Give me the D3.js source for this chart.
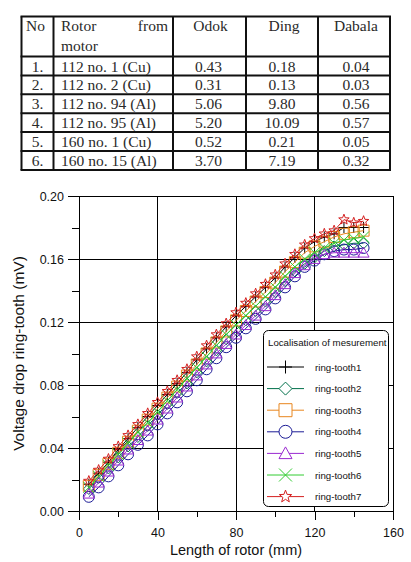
<!DOCTYPE html>
<html><head><meta charset="utf-8">
<script src="https://cdn.jsdelivr.net/npm/d3@7"></script>
<style>html,body{margin:0;padding:0;background:#fff;}svg{display:block;}</style>
</head><body>
<svg id="c" width="411" height="562"></svg>
<script>
// ---- table data ----
const tableHeader = ["No", "Rotor from motor", "Odok", "Ding", "Dabala"];
const tableNo = ["1.", "2.", "3.", "4.", "5.", "6."];
const tableRotor = ["112 no. 1 (Cu)", "112 no. 2 (Cu)", "112 no. 94 (Al)", "112 no. 95 (Al)", "160 no. 1 (Cu)", "160 no. 15 (Al)"];
const tableOdok = ["0.43", "0.31", "5.06", "5.20", "0.52", "3.70"];
const tableDing = ["0.18", "0.13", "9.80", "10.09", "0.21", "7.19"];
const tableDabala = ["0.04", "0.03", "0.56", "0.57", "0.05", "0.32"];

// ---- chart data ----
const lengthMm = [5,10,15,20,25,30,35,40,45,50,55,60,65,70,75,80,85,90,95,100,105,110,115,120,125,130,135,140,145];
const seriesNames = ["ring-tooth1","ring-tooth2","ring-tooth3","ring-tooth4","ring-tooth5","ring-tooth6","ring-tooth7"];
const tooth1 = [0.017,0.024,0.031,0.039,0.046,0.053,0.060,0.067,0.074,0.081,0.088,0.096,0.103,0.110,0.117,0.124,0.130,0.136,0.142,0.148,0.155,0.161,0.167,0.171,0.174,0.176,0.180,0.180,0.180];
const tooth2 = [0.014,0.021,0.027,0.034,0.041,0.047,0.054,0.061,0.068,0.075,0.081,0.088,0.095,0.102,0.109,0.115,0.121,0.127,0.133,0.139,0.146,0.152,0.157,0.161,0.165,0.168,0.169,0.170,0.170];
const tooth3 = [0.016,0.023,0.030,0.037,0.044,0.051,0.058,0.065,0.072,0.079,0.086,0.093,0.100,0.107,0.114,0.121,0.127,0.133,0.139,0.145,0.152,0.158,0.164,0.168,0.171,0.174,0.176,0.177,0.178];
const tooth4 = [0.009,0.015,0.022,0.029,0.036,0.042,0.048,0.055,0.062,0.069,0.076,0.083,0.090,0.097,0.104,0.110,0.116,0.122,0.128,0.135,0.142,0.149,0.155,0.159,0.163,0.165,0.166,0.166,0.167];
const tooth5 = [0.011,0.018,0.025,0.032,0.039,0.045,0.051,0.058,0.065,0.072,0.079,0.086,0.093,0.100,0.106,0.112,0.118,0.124,0.130,0.137,0.144,0.151,0.156,0.160,0.163,0.164,0.164,0.164,0.164];
const tooth6 = [0.015,0.022,0.029,0.036,0.043,0.050,0.056,0.063,0.070,0.077,0.084,0.091,0.098,0.105,0.112,0.118,0.124,0.130,0.136,0.142,0.149,0.155,0.160,0.164,0.167,0.170,0.172,0.173,0.174];
const tooth7 = [0.019,0.026,0.033,0.041,0.048,0.055,0.062,0.069,0.076,0.083,0.090,0.098,0.105,0.112,0.119,0.126,0.132,0.138,0.144,0.150,0.157,0.163,0.169,0.173,0.176,0.178,0.185,0.183,0.184];
const xMajorTicks = [0,40,80,120,160];
const xMinorTicks = [20,60,100,140];
const yMajorTicks = [0,0.04,0.08,0.12,0.16,0.20];
const yMinorTicks = [0.02,0.06,0.10,0.14,0.18];
const xTitle = "Length of rotor (mm)";
const yTitle = "Voltage drop ring-tooth (mV)";
const legendTitle = "Localisation of mesurement";

const seriesValues = [tooth1,tooth2,tooth3,tooth4,tooth5,tooth6,tooth7];
const colors = ["#000000","#00704a","#e8861e","#1c1c96","#9a2ad0","#33cc33","#d42020"];
const markers = ["plus","diamond","square","circle","triangle","cross","star"];

const svg = d3.select("#c");

// ---------- TABLE ----------
const tbl = svg.append("g");
const colX = [21.5, 53.5, 173, 246, 318, 390];
const tTop = 16.5, headH = 40, rowH = 18.9;
const tBottom = tTop + headH + rowH * 6;
const tColor = "#2a2a2a";
const rowLines = [tTop, tTop + headH];
for (let i = 1; i <= 6; i++) rowLines.push(tTop + headH + rowH * i);
tbl.selectAll("line.h").data(rowLines).join("line")
  .attr("x1", colX[0] - 1).attr("x2", colX[5] + 1)
  .attr("y1", d => d).attr("y2", d => d)
  .attr("stroke", "#111").attr("stroke-width", 2);
tbl.selectAll("line.v").data(colX).join("line")
  .attr("x1", d => d).attr("x2", d => d)
  .attr("y1", tTop).attr("y2", tBottom)
  .attr("stroke", "#111").attr("stroke-width", 2);
const tfont = "'Liberation Serif', 'Times New Roman', serif";
const ttext = (x, y, s, anchor) => tbl.append("text").attr("x", x).attr("y", y).text(s)
  .attr("font-family", tfont).attr("font-size", 15.5).attr("fill", tColor).attr("text-anchor", anchor || "start");
const hb = tTop + 14;
ttext(26, hb, tableHeader[0]);
const rotorWords = tableHeader[1].split(" ");
ttext(61, hb, rotorWords[0]);
ttext(168, hb, rotorWords[1], "end");
ttext(61, hb + 20, rotorWords[2]);
ttext((colX[2] + colX[3]) / 2 + 1, hb, tableHeader[2], "middle");
ttext((colX[3] + colX[4]) / 2 + 2, hb, tableHeader[3], "middle");
ttext((colX[4] + colX[5]) / 2 + 2, hb, tableHeader[4], "middle");
for (let i = 0; i < 6; i++) {
  const by = tTop + headH + rowH * i + 15;
  ttext((colX[0] + colX[1]) / 2, by, tableNo[i], "middle");
  ttext(61, by, tableRotor[i]);
  ttext((colX[2] + colX[3]) / 2 - 1, by, tableOdok[i], "middle");
  ttext((colX[3] + colX[4]) / 2, by, tableDing[i], "middle");
  ttext((colX[4] + colX[5]) / 2 + 2, by, tableDabala[i], "middle");
}

// ---------- CHART ----------
const L = 79, R = 393, T = 196, B = 511;
const x = d3.scaleLinear().domain([0, 160]).range([L, R]);
const y = d3.scaleLinear().domain([0, 0.20]).range([B, T]);
const cfont = "'Liberation Sans', Arial, sans-serif";

const g = svg.append("g");
// gridlines
g.selectAll("line.gx").data(xMajorTicks).join("line")
  .attr("x1", d => x(d)).attr("x2", d => x(d)).attr("y1", T).attr("y2", B)
  .attr("stroke", "#000").attr("stroke-width", 1).attr("shape-rendering", "crispEdges");
g.selectAll("line.gy").data(yMajorTicks).join("line")
  .attr("x1", L).attr("x2", R).attr("y1", d => y(d)).attr("y2", d => y(d))
  .attr("stroke", "#000").attr("stroke-width", 1).attr("shape-rendering", "crispEdges");

// axes
const xAx = g.append("g").attr("transform", `translate(0,${B})`)
  .call(d3.axisBottom(x).tickValues(xMajorTicks).tickSize(9).tickPadding(8).tickFormat(d3.format("d")));
const xAxMin = g.append("g").attr("transform", `translate(0,${B})`)
  .call(d3.axisBottom(x).tickValues(xMinorTicks).tickSize(6).tickFormat(""));
const yAx = g.append("g").attr("transform", `translate(${L},0)`)
  .call(d3.axisLeft(y).tickValues(yMajorTicks).tickSize(11).tickPadding(4).tickFormat(d3.format(".2f")));
const yAxMin = g.append("g").attr("transform", `translate(${L},0)`)
  .call(d3.axisLeft(y).tickValues(yMinorTicks).tickSize(7).tickFormat(""));
[xAx, xAxMin, yAx, yAxMin].forEach(a => {
  a.select(".domain").attr("stroke", "#000").attr("shape-rendering", "crispEdges");
  a.selectAll(".tick line").attr("stroke", "#000").attr("shape-rendering", "crispEdges");
  a.selectAll("text").attr("font-family", cfont).attr("font-size", 12.5).attr("fill", "#111");
});

// axis titles
g.append("text").attr("x", (L + R) / 2).attr("y", 555).attr("text-anchor", "middle")
  .attr("font-family", cfont).attr("font-size", 14.5).attr("fill", "#111").text(xTitle);
g.append("text").attr("transform", `translate(24,${(T + B) / 2}) rotate(-90)`).attr("text-anchor", "middle")
  .attr("font-family", cfont).attr("font-size", 15.5).attr("fill", "#111").text(yTitle);

// marker paths
function markerPath(type, s) {
  const h = s / 2;
  switch (type) {
    case "plus": return `M${-h},0H${h}M0,${-h}V${h}`;
    case "cross": return `M${-h},${-h}L${h},${h}M${-h},${h}L${h},${-h}`;
    case "diamond": return `M0,${-h}L${h},0L0,${h}L${-h},0Z`;
    case "square": return `M${-h},${-h}H${h}V${h}H${-h}Z`;
    case "circle": return d3.symbol(d3.symbolCircle, Math.PI * h * h)();
    case "triangle": return `M0,${-h}L${h},${h * 0.8}L${-h},${h * 0.8}Z`;
    case "star": {
      let p = "";
      for (let i = 0; i < 10; i++) {
        const r = i % 2 === 0 ? h : h * 0.42;
        const a = -Math.PI / 2 + i * Math.PI / 5;
        p += (i === 0 ? "M" : "L") + (r * Math.cos(a)).toFixed(2) + "," + (r * Math.sin(a)).toFixed(2);
      }
      return p + "Z";
    }
  }
}
const mSize = 11;
const line = d3.line().x(d => x(d[0])).y(d => y(d[1]));
const dataG = g.append("g");
seriesValues.forEach((vals, si) => {
  const pts = lengthMm.map((lx, i) => [lx, vals[i]]);
  const sg = dataG.append("g");
  sg.append("path").attr("d", line(pts)).attr("fill", "none").attr("stroke", colors[si]).attr("stroke-width", 1);
  sg.selectAll("path.m").data(pts).join("path")
    .attr("transform", d => `translate(${x(d[0])},${y(d[1])})`)
    .attr("d", markerPath(markers[si], mSize))
    .attr("fill", "none").attr("stroke", colors[si]).attr("stroke-width", 1);
});

// legend
const lg = g.append("g");
lg.append("rect").attr("x", 263.5).attr("y", 330.5).attr("width", 125).attr("height", 176).attr("rx", 5)
  .attr("fill", "#fff").attr("stroke", "#000").attr("stroke-width", 1);
lg.append("text").attr("x", 268).attr("y", 346).attr("font-family", cfont).attr("font-size", 9.7).attr("fill", "#111").text(legendTitle);
seriesNames.forEach((nm, i) => {
  const ly = 367 + i * 21.6;
  lg.append("line").attr("x1", 267).attr("x2", 304).attr("y1", ly).attr("y2", ly).attr("stroke", colors[i]).attr("stroke-width", 1);
  lg.append("path").attr("transform", `translate(285.5,${ly})`).attr("d", markerPath(markers[i], 13))
    .attr("fill", "#fff").attr("fill-opacity", markers[i] === "plus" || markers[i] === "cross" ? 0 : 1)
    .attr("stroke", colors[i]).attr("stroke-width", 1);
  lg.append("text").attr("x", 315).attr("y", ly + 3.5).attr("font-family", cfont).attr("font-size", 9.7).attr("fill", "#111").text(nm);
});
</script>
</body></html>
